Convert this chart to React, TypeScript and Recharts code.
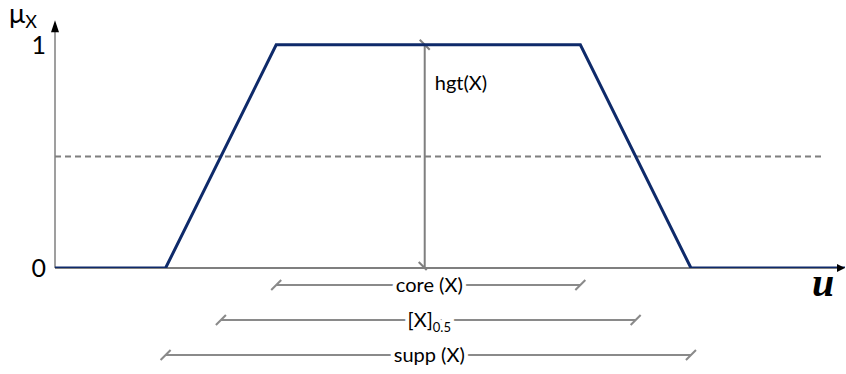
import { LineChart, Line, XAxis, YAxis, ReferenceLine } from 'recharts';

// trapezoidal membership function mu_X(u)
const uValues = [0, 14, 28, 66.5, 80.5, 100];
const muValues = [0, 0, 1, 1, 0, 0];
const yTicks = [0, 1];

const alphaLevel = 0.5;
const alphaLineEnd = 97;
const heightAt = 46.8;
const heightLabel = 'hgt(X)';

const rangeLabels = ['core (X)', '[X]', 'supp (X)'];
const rangeSubscripts = ['', '0.5', ''];
const rangeStarts = [28, 21, 14];
const rangeEnds = [66.5, 73.5, 80.5];

const yAxisLabel = 'μ';
const yAxisLabelSub = 'X';
const xAxisLabel = 'u';

const data = uValues.map((u, i) => ({ u, mu: muValues[i] }));

const FONT = 'Lato, "Noto Sans", sans-serif';
const NAVY = '#0e2a6a';
const GRAY = '#7f7f7f';
const BRACKET = '#8a8a8a';

// pixel offsets of the bracket rows below the u axis
const rangeOffsets = [17, 52, 87];

function YArrow(p: any) {
  const { x1, y1, x2, y2 } = p;
  return (
    <g>
      <line x1={x1} y1={y1} x2={x2} y2={y2 + 8} stroke={GRAY} strokeWidth={1.5} />
      <path d={`M${x2},${y2} L${x2 - 4},${y2 + 12} L${x2 + 4},${y2 + 12} Z`} fill="#000" />
      <text x={x2 - 46} y={y2 + 3} fontFamily={FONT} fontSize={27} fill="#000">
        {yAxisLabel}
        <tspan fontSize={18} dy={5}>{yAxisLabelSub}</tspan>
      </text>
    </g>
  );
}

function XArrow(p: any) {
  const { x1, y1, x2, y2 } = p;
  return <line x1={x1} y1={y1} x2={x2 - 5} y2={y2} stroke="#000" strokeWidth={1.2} />;
}

function XArrowHead(p: any) {
  const { x2, y2 } = p;
  return (
    <g>
      <path d={`M${x2},${y2} L${x2 - 8},${y2 - 4} L${x2 - 8},${y2 + 4} Z`} fill="#000" />
      <text
        x={x2 - 33}
        y={y2 + 28}
        fontFamily='"Liberation Serif", serif'
        fontStyle="italic"
        fontWeight="bold"
        fontSize={40}
        fill="#000"
      >
        {xAxisLabel}
      </text>
    </g>
  );
}

function HeightArrow(p: any) {
  const { x1, y1, x2, y2 } = p;
  return (
    <g stroke={GRAY} strokeWidth={2}>
      <line x1={x1} y1={y1} x2={x2} y2={y2} />
      <line x1={x1 - 5} y1={y1 - 5} x2={x1 + 5} y2={y1 + 5} />
      <line x1={x2 - 6} y1={y2 - 6} x2={x2 + 2} y2={y2 + 2} />
      <text x={x1 + 10} y={y1 + 45} fontFamily={FONT} fontSize={20} fill="#000" stroke="none">
        {heightLabel}
      </text>
    </g>
  );
}

function RangeText({ x, y, i, halo }: { x: number; y: number; i: number; halo: boolean }) {
  return (
    <text
      x={x}
      y={y}
      dy="0.35em"
      textAnchor="middle"
      fontFamily={FONT}
      fontSize={20}
      fill={halo ? '#fff' : '#000'}
      stroke={halo ? '#fff' : 'none'}
      strokeWidth={halo ? 8 : 0}
    >
      {rangeLabels[i]}
      {rangeSubscripts[i] ? (
        <tspan fontSize={13} dy={5}>{rangeSubscripts[i]}</tspan>
      ) : null}
    </text>
  );
}

const rangeShape = (i: number) => (p: any) => {
  const { x1, x2 } = p;
  const y = p.y1 + rangeOffsets[i];
  const mid = (x1 + x2) / 2 + 1;
  return (
    <g>
      <line x1={x1} y1={y} x2={x2} y2={y} stroke={BRACKET} strokeWidth={2} />
      <line x1={x1 - 5} y1={y + 5} x2={x1 + 5} y2={y - 5} stroke={BRACKET} strokeWidth={2} />
      <line x1={x2 - 5} y1={y + 5} x2={x2 + 5} y2={y - 5} stroke={BRACKET} strokeWidth={2} />
      <RangeText x={mid} y={y} i={i} halo />
      <RangeText x={mid} y={y} i={i} halo={false} />
    </g>
  );
};

export default function App() {
  return (
    <div style={{ position: 'absolute', left: 0, top: 0, background: '#fff' }}>
      <LineChart
        width={846}
        height={374}
        data={data}
        margin={{ top: 18, right: 1, bottom: 106, left: 0 }}
      >
        <XAxis dataKey="u" type="number" domain={[0, 100]} hide allowDataOverflow />
        <YAxis
          type="number"
          domain={[0, 1.12]}
          ticks={yTicks}
          width={55}
          axisLine={false}
          tickLine={false}
          tickSize={0}
          tickMargin={9}
          tick={{ fill: '#000', fontSize: 25, fontFamily: FONT }}
          allowDataOverflow
        />
        <ReferenceLine
          segment={[{ x: 0, y: 0 }, { x: 0, y: 1.11 }]}
          ifOverflow="visible"
          shape={YArrow}
        />
        <ReferenceLine
          segment={[{ x: 0, y: 0 }, { x: 100, y: 0 }]}
          ifOverflow="visible"
          shape={XArrow}
        />
        <ReferenceLine
          segment={[{ x: 0, y: alphaLevel }, { x: alphaLineEnd, y: alphaLevel }]}
          stroke={GRAY}
          strokeWidth={2}
          strokeDasharray="6 4"
          ifOverflow="visible"
        />
        <ReferenceLine
          segment={[{ x: heightAt, y: 1 }, { x: heightAt, y: 0 }]}
          ifOverflow="visible"
          shape={HeightArrow}
        />
        {rangeLabels.map((label, i) => (
          <ReferenceLine
            key={label}
            segment={[{ x: rangeStarts[i], y: 0 }, { x: rangeEnds[i], y: 0 }]}
            ifOverflow="visible"
            shape={rangeShape(i)}
          />
        ))}
        <Line
          type="linear"
          dataKey="mu"
          stroke={NAVY}
          strokeWidth={3}
          dot={false}
          isAnimationActive={false}
        />
        <ReferenceLine
          segment={[{ x: 0, y: 0 }, { x: 100, y: 0 }]}
          ifOverflow="visible"
          shape={XArrowHead}
        />
      </LineChart>
    </div>
  );
}
